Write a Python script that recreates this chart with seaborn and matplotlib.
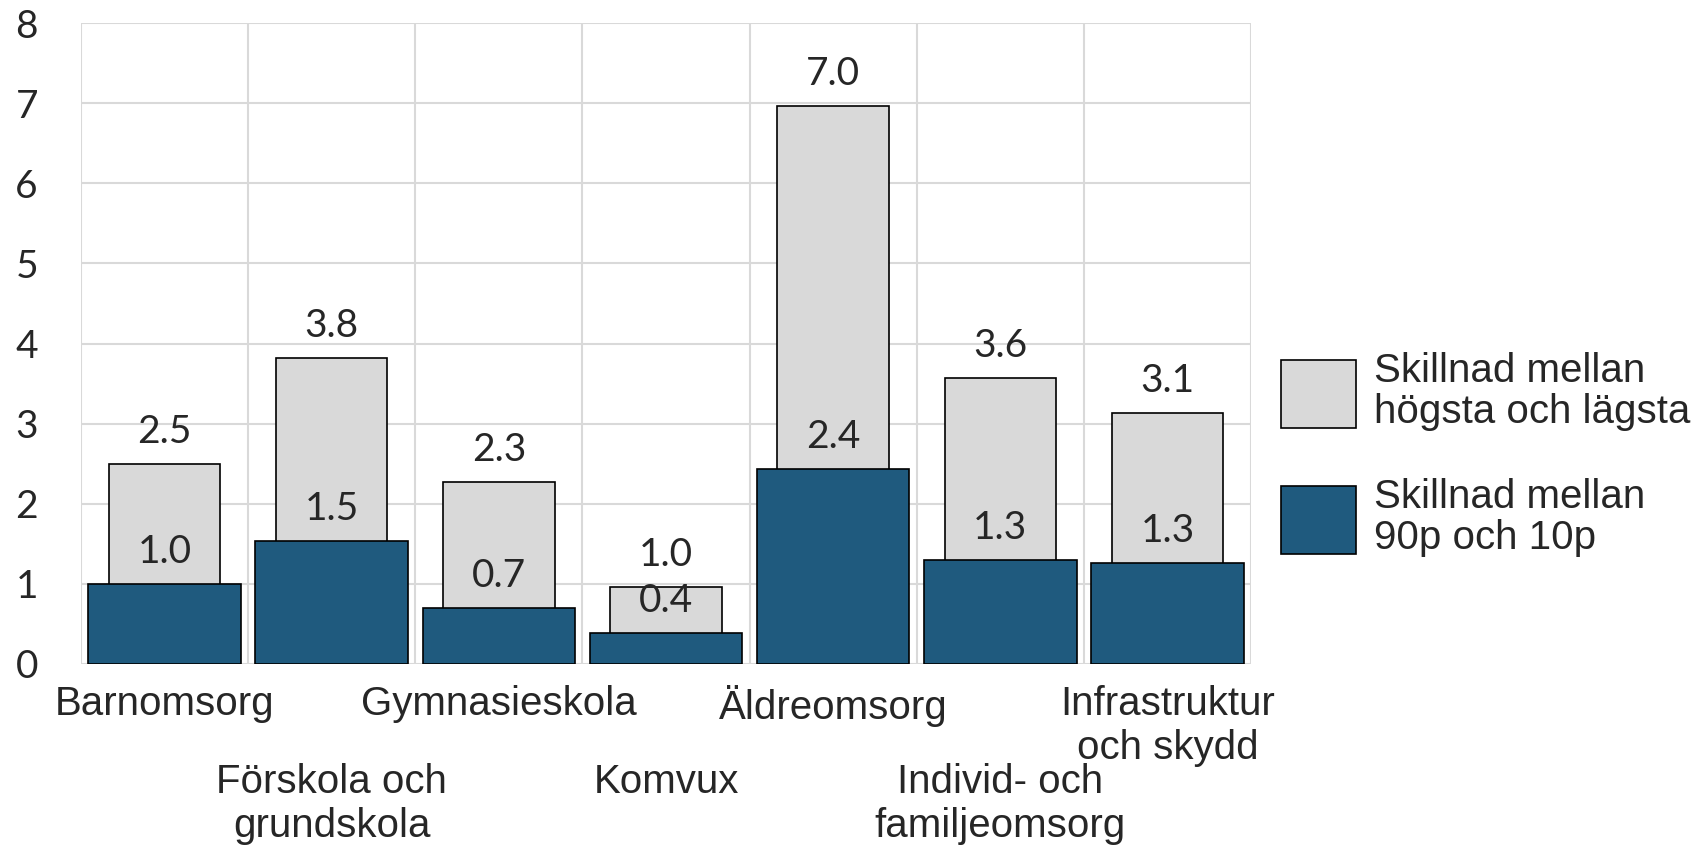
import matplotlib
matplotlib.use("Agg")
import matplotlib.pyplot as plt
from matplotlib.patches import Patch
from matplotlib.ticker import MultipleLocator, FixedLocator
import seaborn as sns
import pandas as pd

categories = ["Barnomsorg", "Förskola och\ngrundskola", "Gymnasieskola", "Komvux",
              "Äldreomsorg", "Individ- och\nfamiljeomsorg", "Infrastruktur\noch skydd"]
high_low = [2.50, 3.82, 2.27, 0.96, 6.96, 3.57, 3.13]
p90_p10 = [1.00, 1.54, 0.70, 0.39, 2.43, 1.30, 1.26]
series_names = ["Skillnad mellan\nhögsta och lägsta", "Skillnad mellan\n90p och 10p"]

GRAY = "#d9d9d9"
BLUE = "#1f5a7e"
GRID = "#d9d9d9"
NUM_SIZE = 28
TXT_SIZE = 29

sns.set_theme(style="white")
plt.rcParams["font.family"] = ["Liberation Sans", "DejaVu Sans"]

df = pd.DataFrame({"cat": categories, "hl": high_low, "p": p90_p10})

fig = plt.figure(figsize=(16.96, 8.48), dpi=100)
ax = fig.add_axes([81/1696, 1-664/848, (1251-81)/1696, (664-23)/848])

sns.barplot(data=df, x="cat", y="hl", color=GRAY, saturation=1, width=0.666,
            edgecolor="black", linewidth=1.2, ax=ax, zorder=2)
sns.barplot(data=df, x="cat", y="p", color=BLUE, saturation=1, width=0.912,
            edgecolor="black", linewidth=1.2, ax=ax, zorder=3)

for cont in ax.containers:
    ax.bar_label(cont, fmt="%.1f", padding=10, fontsize=NUM_SIZE, fontfamily="Lato", zorder=5)

ax.set_ylim(0, 8)
ax.set_xlim(-0.5, 6.5)
ax.yaxis.set_major_locator(MultipleLocator(1))
ax.xaxis.set_minor_locator(FixedLocator([i - 0.5 for i in range(8)]))
ax.grid(axis="y", which="major", color=GRID, linewidth=1.5, zorder=0)
ax.grid(axis="x", which="minor", color=GRID, linewidth=1.5, zorder=0)
ax.grid(axis="x", which="major", visible=False)
ax.set_axisbelow(True)
for s in ax.spines.values():
    s.set_visible(False)

ax.set_xlabel("")
ax.set_ylabel("")
ax.tick_params(axis="both", which="both", length=0)
ax.tick_params(axis="y", pad=31)
for lab in ax.get_yticklabels():
    lab.set_fontfamily("Lato")
    lab.set_fontsize(NUM_SIZE)

ax.set_xticks(range(len(categories)))
ax.set_xticklabels(categories, fontsize=TXT_SIZE, linespacing=1.2)
for i, tick in enumerate(ax.xaxis.get_major_ticks()):
    tick.set_pad(15 if i % 2 == 0 else 71)

handles = [Patch(facecolor=GRAY, edgecolor="black", linewidth=1.2),
           Patch(facecolor=BLUE, edgecolor="black", linewidth=1.2)]
fig.legend(handles, series_names, loc="upper left", bbox_to_anchor=(1281/1696, 1-352/848),
           frameon=False, fontsize=TXT_SIZE, handlelength=1.87, handleheight=2.24,
           handletextpad=0.45, labelspacing=1.17, borderaxespad=0, borderpad=0)
for t in fig.legends[0].get_texts():
    t.set_linespacing(1.1)

fig.savefig("out.png", dpi=100)
